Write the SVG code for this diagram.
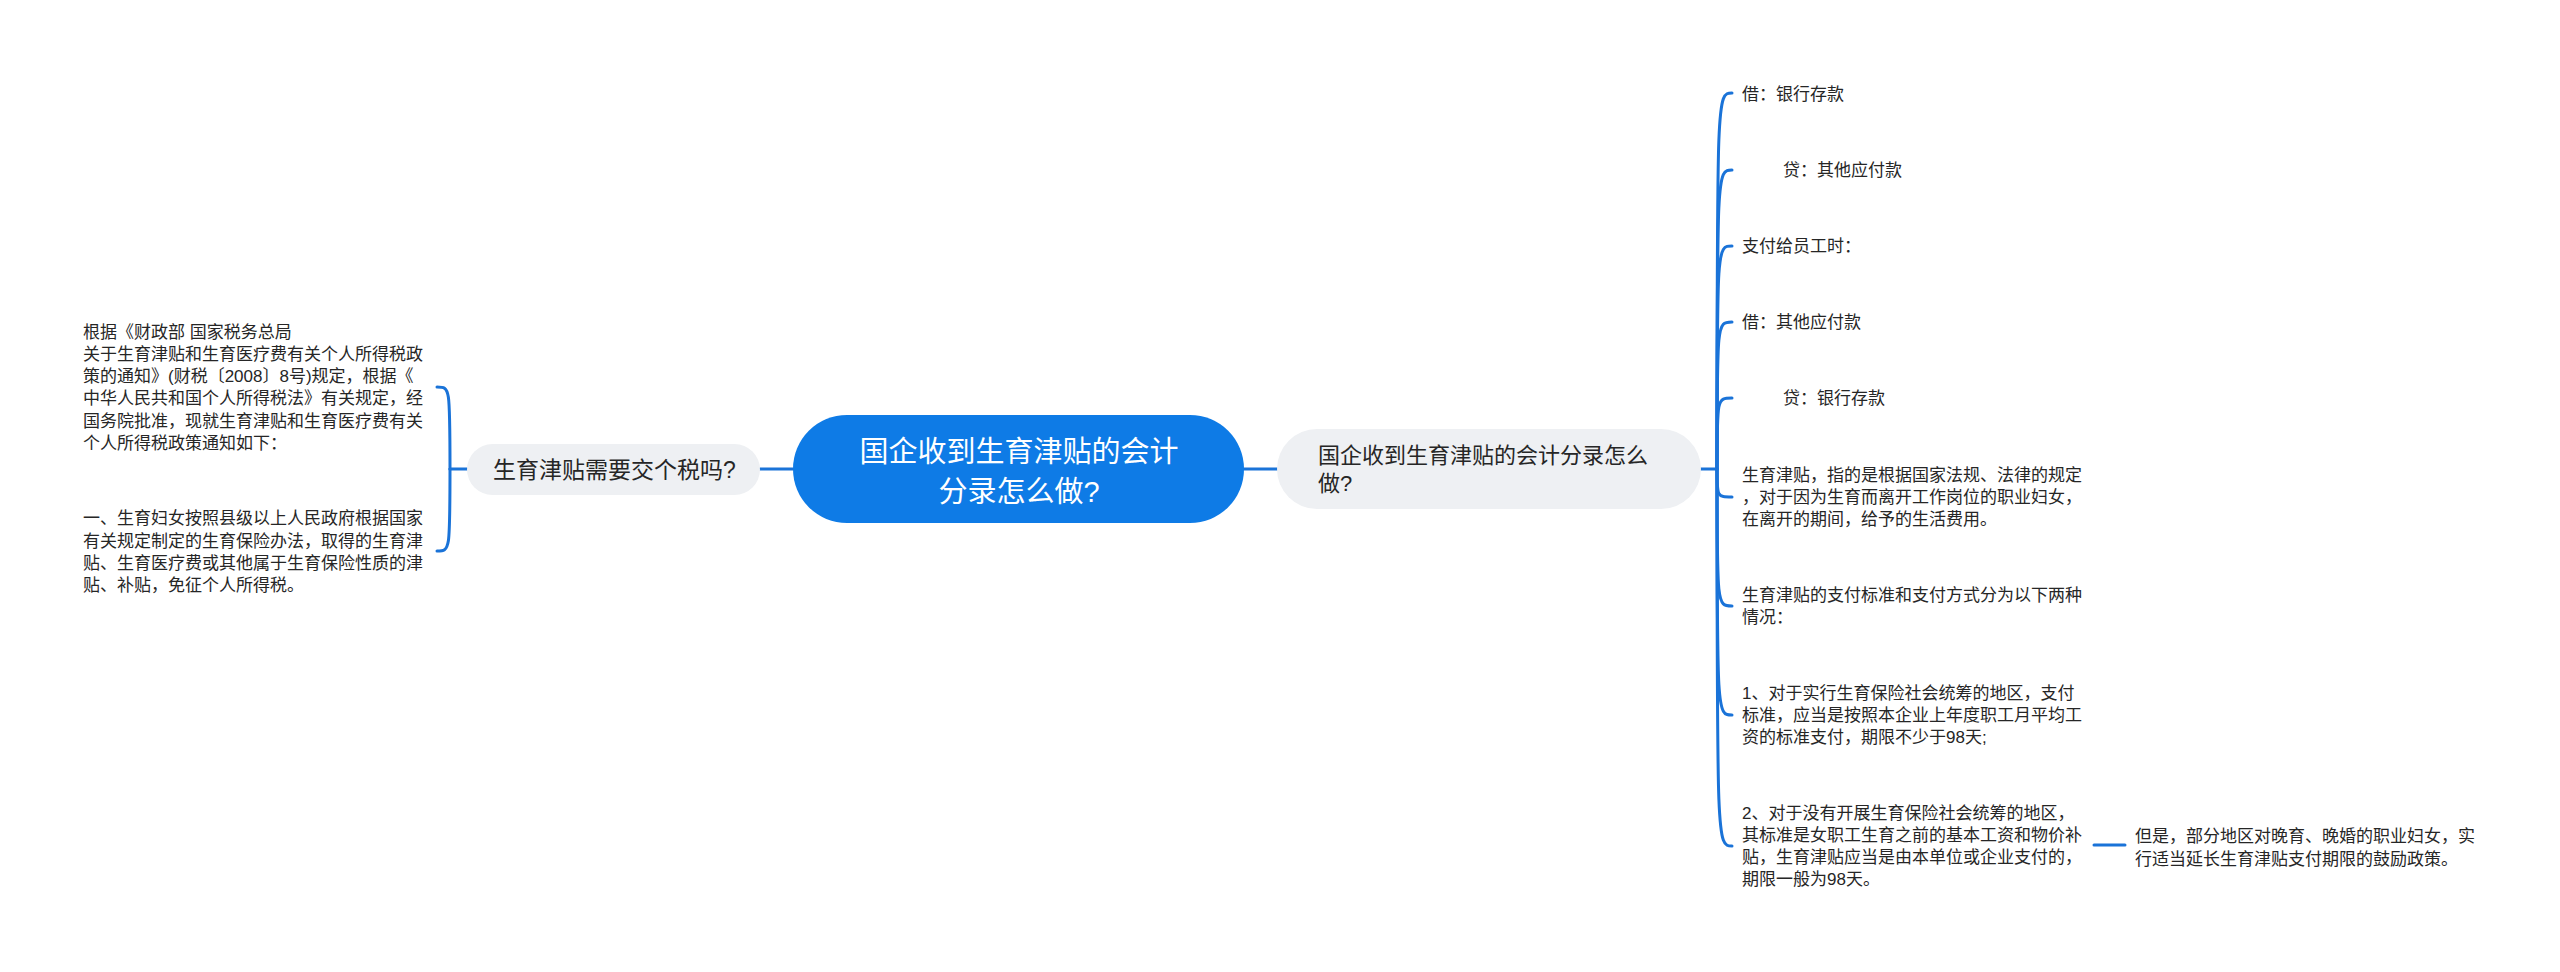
<svg xmlns="http://www.w3.org/2000/svg" width="2560" height="972" viewBox="0 0 2560 972">
<style>
text { font-family: "Liberation Sans", "Noto Sans CJK SC", sans-serif; fill: #262626; dominant-baseline: central; }
.s { font-size: 17px; }
.m { font-size: 22px; }
.c { font-size: 29px; fill: #ffffff; text-anchor: middle; }
.pill { fill: #eef0f3; }
.conn path { fill: none; stroke: #1a73d8; stroke-width: 3; stroke-linecap: round; }
</style>
<rect width="2560" height="972" fill="#ffffff"/>
<g class="conn" id="connectors">
<path d="M760,469 L793,469"/>
<path d="M1244,469 L1277,469"/>
<path d="M467,469 L450,469"/>
<path d="M450,469 C450,387 450,387 437,387"/>
<path d="M450,469 C450,551 450,551 437,551"/>
<path d="M1701,469 L1717,469"/>
<path d="M1717,469 C1717,93 1717,93 1732,93"/>
<path d="M1717,469 C1717,170 1717,170 1732,170"/>
<path d="M1717,469 C1717,246 1717,246 1732,246"/>
<path d="M1717,469 C1717,322 1717,322 1732,322"/>
<path d="M1717,469 C1717,398 1717,398 1732,398"/>
<path d="M1717,469 C1717,497 1717,497 1732,497"/>
<path d="M1717,469 C1717,606 1717,606 1732,606"/>
<path d="M1717,469 C1717,715 1717,715 1732,715"/>
<path d="M1717,469 C1717,846 1717,846 1732,846"/>
<path d="M2094,845 L2125,845"/>
</g>
<g id="root">
<rect x="793" y="415" width="451" height="108" rx="54" fill="#0e7be6"/>
<text class="c" x="1019" y="452">国企收到生育津贴的会计</text>
<text class="c" x="1019" y="492">分录怎么做?</text>
</g>
<g id="left-node">
<rect class="pill" x="467" y="444" width="293" height="51" rx="25.5"/>
<text x="493" y="470" style="font-size:23px">生育津贴需要交个税吗?</text>
</g>
<g id="left-text-1">
<text class="s" x="83" y="332">根据《财政部 国家税务总局</text>
<text class="s" x="83" y="354">关于生育津贴和生育医疗费有关个人所得税政</text>
<text class="s" x="83" y="376">策的通知》(财税〔2008〕8号)规定，根据《</text>
<text class="s" x="83" y="398">中华人民共和国个人所得税法》有关规定，经</text>
<text class="s" x="83" y="421">国务院批准，现就生育津贴和生育医疗费有关</text>
<text class="s" x="83" y="443">个人所得税政策通知如下：</text>
</g>
<g id="left-text-2">
<text class="s" x="83" y="518">一、生育妇女按照县级以上人民政府根据国家</text>
<text class="s" x="83" y="541">有关规定制定的生育保险办法，取得的生育津</text>
<text class="s" x="83" y="563">贴、生育医疗费或其他属于生育保险性质的津</text>
<text class="s" x="83" y="585">贴、补贴，免征个人所得税。</text>
</g>
<g id="right-node">
<rect class="pill" x="1277" y="429" width="424" height="80" rx="40"/>
<text class="m" x="1318" y="455">国企收到生育津贴的会计分录怎么</text>
<text class="m" x="1318" y="483">做?</text>
</g>
<g id="r1"><text class="s" x="1742" y="94">借：银行存款</text></g>
<g id="r2"><text class="s" x="1783" y="170">贷：其他应付款</text></g>
<g id="r3"><text class="s" x="1742" y="246">支付给员工时：</text></g>
<g id="r4"><text class="s" x="1742" y="322">借：其他应付款</text></g>
<g id="r5"><text class="s" x="1783" y="398">贷：银行存款</text></g>
<g id="r6">
<text class="s" x="1742" y="475">生育津贴，指的是根据国家法规、法律的规定</text>
<text class="s" x="1742" y="497">，对于因为生育而离开工作岗位的职业妇女，</text>
<text class="s" x="1742" y="519">在离开的期间，给予的生活费用。</text>
</g>
<g id="r7">
<text class="s" x="1742" y="595">生育津贴的支付标准和支付方式分为以下两种</text>
<text class="s" x="1742" y="617">情况：</text>
</g>
<g id="r8">
<text class="s" x="1742" y="693">1、对于实行生育保险社会统筹的地区，支付</text>
<text class="s" x="1742" y="715">标准，应当是按照本企业上年度职工月平均工</text>
<text class="s" x="1742" y="737">资的标准支付，期限不少于98天;</text>
</g>
<g id="r9">
<text class="s" x="1742" y="813">2、对于没有开展生育保险社会统筹的地区，</text>
<text class="s" x="1742" y="835">其标准是女职工生育之前的基本工资和物价补</text>
<text class="s" x="1742" y="857">贴，生育津贴应当是由本单位或企业支付的，</text>
<text class="s" x="1742" y="879">期限一般为98天。</text>
</g>
<g id="r9a">
<text class="s" x="2135" y="836">但是，部分地区对晚育、晚婚的职业妇女，实</text>
<text class="s" x="2135" y="859">行适当延长生育津贴支付期限的鼓励政策。</text>
</g>
</svg>
